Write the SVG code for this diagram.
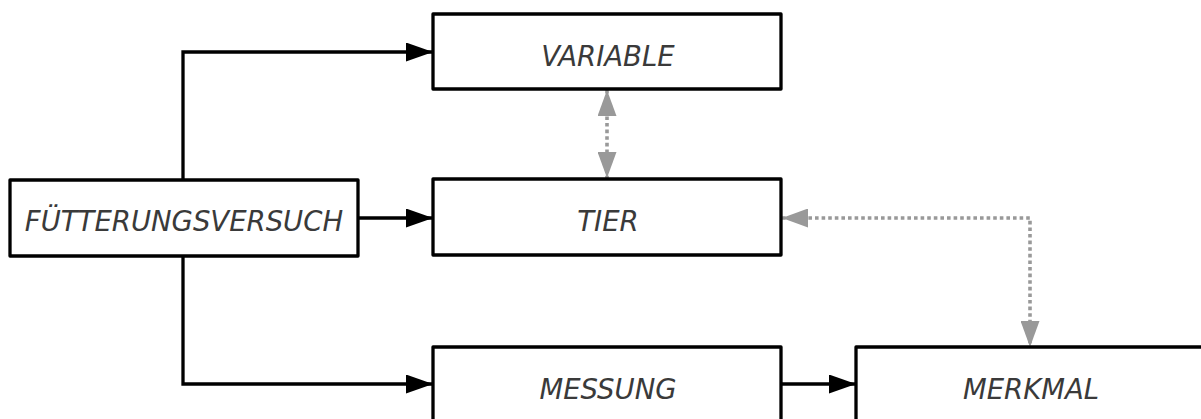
<svg xmlns="http://www.w3.org/2000/svg" width="1201" height="419" viewBox="0 0 1201 419">
  <style>
    .box { fill: #ffffff; stroke: #000000; stroke-width: 3.3; stroke-linejoin: round; }
    .label { font-family: "DejaVu Sans", sans-serif; font-style: oblique; font-size: 27.5px; fill: #3a3a3a; text-anchor: middle; }
    .solid { fill: none; stroke: #000000; stroke-width: 3.3; }
    .dotted { fill: none; stroke: #999999; stroke-width: 3.6; stroke-dasharray: 3.6 3; }
  </style>
  <defs>
    <marker id="arrowBlack" viewBox="0 0 27 19" refX="27" refY="9.5" markerWidth="27" markerHeight="19" markerUnits="userSpaceOnUse" orient="auto">
      <path d="M0,0 L27,9.5 L0,19 Z" fill="#000000"/>
    </marker>
    <marker id="arrowGrey" viewBox="0 0 26 19" refX="26" refY="9.5" markerWidth="26" markerHeight="19" markerUnits="userSpaceOnUse" orient="auto">
      <path d="M0,0 L26,9.5 L0,19 Z" fill="#999999"/>
    </marker>
    <marker id="arrowGreyStart" viewBox="0 0 26 19" refX="0" refY="9.5" markerWidth="26" markerHeight="19" markerUnits="userSpaceOnUse" orient="auto">
      <path d="M26,0 L0,9.5 L26,19 Z" fill="#999999"/>
    </marker>
  </defs>

  <g id="connectors">
    <path class="solid" d="M183,180 V52 H433" marker-end="url(#arrowBlack)"/>
    <path class="solid" d="M358,218 H433" marker-end="url(#arrowBlack)"/>
    <path class="solid" d="M183,256 V384 H433" marker-end="url(#arrowBlack)"/>
    <path class="solid" d="M781,384 H856" marker-end="url(#arrowBlack)"/>
    <path class="dotted" d="M607,90 V178" marker-start="url(#arrowGreyStart)" marker-end="url(#arrowGrey)"/>
    <path class="dotted" d="M782,218 H1030 V347" marker-start="url(#arrowGreyStart)" marker-end="url(#arrowGrey)"/>
  </g>

  <g id="node-fuetterungsversuch">
    <rect class="box" x="10" y="180" width="348" height="76"/>
    <text class="label" x="184" y="231">FÜTTERUNGSVERSUCH</text>
  </g>
  <g id="node-variable">
    <rect class="box" x="433" y="14" width="348" height="75"/>
    <text class="label" x="608" y="66">VARIABLE</text>
  </g>
  <g id="node-tier">
    <rect class="box" x="433" y="179" width="348" height="76"/>
    <text class="label" x="608" y="231">TIER</text>
  </g>
  <g id="node-messung">
    <rect class="box" x="433" y="347" width="348" height="76"/>
    <text class="label" x="608" y="399">MESSUNG</text>
  </g>
  <g id="node-merkmal">
    <rect class="box" x="856" y="347" width="348" height="76"/>
    <text class="label" x="1031" y="399">MERKMAL</text>
  </g>
</svg>
